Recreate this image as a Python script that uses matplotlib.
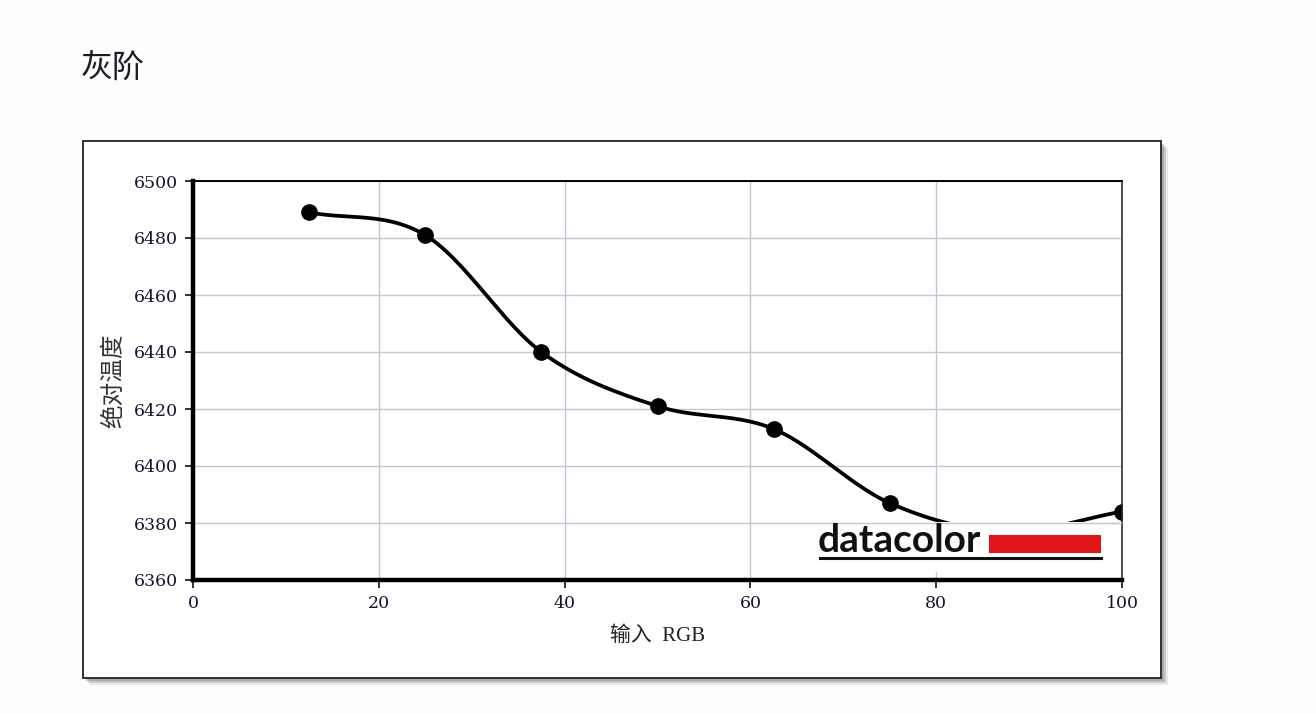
import numpy as np
import matplotlib
matplotlib.use("Agg")
import matplotlib.pyplot as plt
from matplotlib import patches

plt.rcParams['font.family'] = ['Noto Sans CJK SC', 'DejaVu Sans']

# data
rgb_input = [12.5, 25, 37.5, 50, 62.5, 75, 87.5, 100]
abs_temp = [6489, 6481, 6440, 6421, 6413, 6387, 6377, 6384]
x_ticks = [0, 20, 40, 60, 80, 100]
y_ticks = [6360, 6380, 6400, 6420, 6440, 6460, 6480, 6500]


def smooth(xs, ys, n=30):
    # Catmull-Rom curve through the points (like a smoothed office chart line)
    p = np.column_stack([xs, ys]).astype(float)
    p = np.vstack([2 * p[0] - p[1], p, 2 * p[-1] - p[-2]])
    out = []
    t = np.linspace(0, 1, n)[:, None]
    for i in range(1, len(p) - 2):
        p0, p1, p2, p3 = p[i - 1], p[i], p[i + 1], p[i + 2]
        seg = 0.5 * ((2 * p1) + (-p0 + p2) * t
                     + (2 * p0 - 5 * p1 + 4 * p2 - p3) * t ** 2
                     + (-p0 + 3 * p1 - 3 * p2 + p3) * t ** 3)
        out.append(seg)
    out = np.vstack(out)
    return out[:, 0], out[:, 1]


W, H = 1316, 714
fig = plt.figure(figsize=(W / 100, H / 100), dpi=100, facecolor='#fdfdfe')


def fx(px):
    return px / W


def fy(py):
    return 1 - py / H


# framed panel with a drop shadow
for off, a in [(7, 0.15), (5, 0.25), (3, 0.35)]:
    fig.patches.append(patches.Rectangle((fx(83 + off), fy(678 + off)), fx(1078), 537 / H,
                                         transform=fig.transFigure, fc='#707070', ec='none',
                                         alpha=a, zorder=-3))
fig.patches.append(patches.Rectangle((fx(83), fy(678)), fx(1078), 537 / H,
                                     transform=fig.transFigure, fc='white', ec='#222222',
                                     lw=1.3, zorder=-2))

fig.text(fx(81), fy(68), '灰阶', fontsize=23, color='#1e1a24', va='center', ha='left',
         fontweight='light')

ax = fig.add_axes([fx(193), fy(580), fx(1122 - 193), (580 - 181) / H])

sx, sy = smooth(rgb_input, abs_temp)
ax.plot(sx, sy, color='black', lw=2.7, zorder=2, solid_capstyle='round')
ax.plot(rgb_input, abs_temp, 'o', color='black', ms=11, zorder=2)

ax.set_xlim(0, 100)
ax.set_ylim(6360, 6500)
ax.set_xticks(x_ticks)
ax.set_yticks(y_ticks)
ax.grid(color='#c4c6d4', lw=1.0)
ax.set_axisbelow(True)

for s in ['left', 'bottom']:
    ax.spines[s].set_linewidth(3.2)
    ax.spines[s].set_color('black')
ax.spines['top'].set_linewidth(1.4)
ax.spines['right'].set_linewidth(1.2)
ax.spines['right'].set_color('#303030')

ax.tick_params(direction='out', length=6, width=1.3, color='#222222',
               labelsize=12.5, labelcolor='#1c1030', pad=5)
for lab in ax.get_xticklabels() + ax.get_yticklabels():
    lab.set_family(['DejaVu Serif'])

ax.set_xlabel('输入  RGB', fontsize=15, color='#222222', labelpad=10,
              family=['Liberation Serif', 'Noto Sans CJK SC'])
ax.set_ylabel('绝对温度', fontsize=17, color='#333333', labelpad=6)

# datacolor logo on a white card covering the curve
ax.add_patch(patches.Rectangle((fx(812), fy(572)), fx(300), 50 / H,
                               transform=fig.transFigure, fc='white', ec='none',
                               zorder=2.5, clip_on=False))
ax.axhline(6380, xmin=(812 - 193) / 929, xmax=1, color='#c4c6d4', lw=1.0, zorder=2.6)
ax.text(fx(818), fy(541), 'datacolor', transform=fig.transFigure, fontsize=28,
        fontweight='bold', family=['Lato', 'DejaVu Sans'], color='#111111',
        ha='left', va='center', zorder=3)
ax.add_patch(patches.Rectangle((fx(989), fy(553)), fx(112), 18 / H,
                               transform=fig.transFigure, fc='#e3151b', ec='none',
                               zorder=3, clip_on=False))
ax.add_line(plt.Line2D([fx(820), fx(1101)], [fy(558), fy(558)], transform=fig.transFigure,
                       color='#111111', lw=2.2, zorder=3, clip_on=False))

fig.savefig('out.png', dpi=100, facecolor=fig.get_facecolor())
